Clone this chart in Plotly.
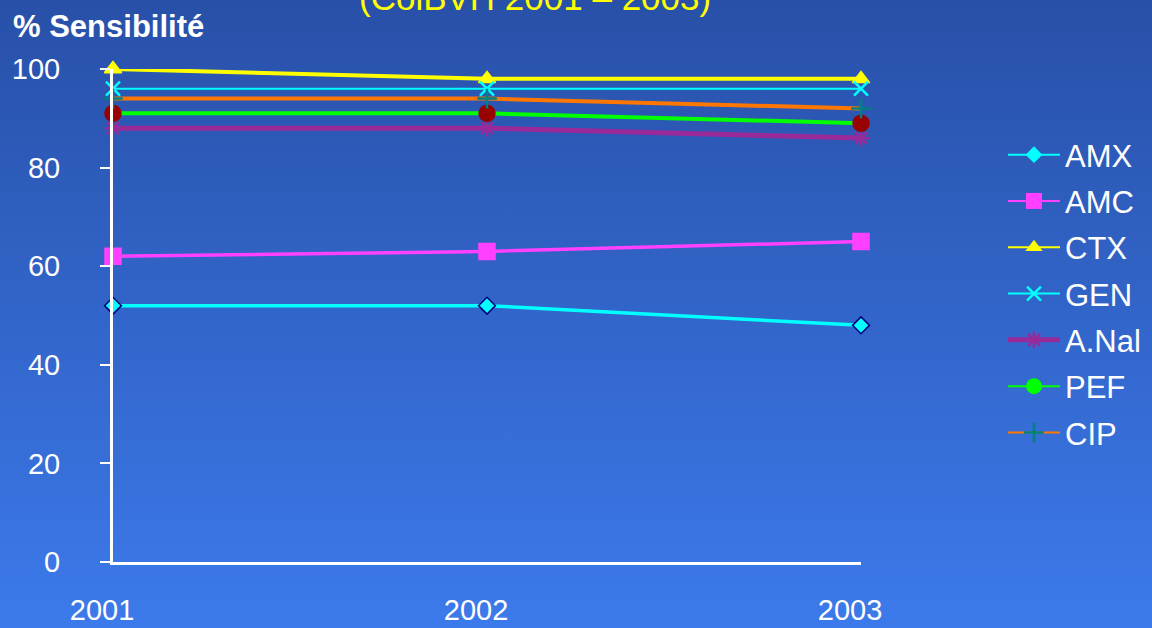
import base64
import plotly.graph_objects as go

# Sensitivity data (%) by year
years = [2001, 2002, 2003]
amx = [52, 52, 48]
amc = [62, 63, 65]
ctx = [100, 98, 98]
gen = [96, 96, 96]
anal = [88, 88, 86]
pef = [91, 91, 89]
cip = [94, 94, 92]

W, H = 1152, 628
ML, MR, MT, MB = 113, 291, 69, 66

series = [
    # name, values, line colour, line width, symbol, marker fill, marker line colour, size, legend marker fill
    ("AMX", amx, "#00FFFF", 3.5, "diamond", "#00FFFF", "#000080", 13, "#00FFFF"),
    ("AMC", amc, "#FF40FF", 3.5, "square", "#FF40FF", "#FF40FF", 16, "#FF40FF"),
    ("CTX", ctx, "#FFFF00", 4, "triangle-up", "#FFFF00", "#FFFF00", 15, "#FFFF00"),
    ("GEN", gen, "#00FFFF", 2, "x-thin-open", "#00FFFF", "#00FFFF", 14, "#00FFFF"),
    ("A.Nal", anal, "#992A99", 5, "asterisk-open", "#992A99", "#992A99", 14, "#992A99"),
    ("PEF", pef, "#00FF00", 4, "circle", "#990000", "#990000", 16, "#00FF00"),
    ("CIP", cip, "#FF7700", 4, "cross-thin-open", "#008080", "#008080", 14, "#008080"),
]

fig = go.Figure()
for name, vals, lc, lw, sym, mfill, mline, size, legfill in series:
    open_sym = sym.endswith("-open")
    fig.add_trace(go.Scatter(
        x=years, y=vals, mode="lines+markers", name=name, showlegend=False,
        line=dict(color=lc, width=lw),
        marker=dict(symbol=sym, size=size, color=mfill,
                    line=dict(color=mline, width=2.5 if open_sym else 1.5)),
        cliponaxis=False,
    ))

# Legend entries (legend markers use the line colour family)
for i, (name, vals, lc, lw, sym, mfill, mline, size, legfill) in enumerate(series):
    open_sym = sym.endswith("-open")
    fig.add_trace(go.Scatter(
        x=[None], y=[None], mode="lines+markers", name=name,
        legendgroup=f"g{i}",
        line=dict(color=lc, width=lw if name == "A.Nal" else 2),
        marker=dict(symbol=sym, size=size, color=legfill,
                    line=dict(color=legfill, width=2.5 if open_sym else 0)),
    ))

# Vertical blue gradient background
svg = (
    f'<svg xmlns="http://www.w3.org/2000/svg" width="{W}" height="{H}">'
    '<defs><linearGradient id="g" x1="0" y1="0" x2="0" y2="1">'
    '<stop offset="0" stop-color="#2850A8"/>'
    '<stop offset="1" stop-color="#3C7AEB"/>'
    '</linearGradient></defs>'
    f'<rect width="{W}" height="{H}" fill="url(#g)"/></svg>'
)
bg_src = "data:image/svg+xml;base64," + base64.b64encode(svg.encode()).decode()

pw = W - ML - MR
ph = H - MT - MB

fig.update_layout(
    width=W, height=H,
    margin=dict(l=ML, r=MR, t=MT, b=MB, pad=0, autoexpand=False),
    paper_bgcolor="rgba(0,0,0,0)",
    plot_bgcolor="rgba(0,0,0,0)",
    font=dict(family="Liberation Sans, Arial, sans-serif", color="white", size=29),
    images=[dict(source=bg_src, xref="paper", yref="paper",
                 x=-ML / pw, y=1 + MT / ph, sizex=W / pw, sizey=H / ph,
                 xanchor="left", yanchor="top", sizing="stretch", layer="below")],
    xaxis=dict(
        range=[2001, 2003], tickvals=years, ticktext=[str(y) for y in years],
        showline=True, linecolor="white", linewidth=3, showgrid=False,
        zeroline=False, ticks="", ticklabelstandoff=20, ticklabelshift=-11,
        tickfont=dict(size=29, color="white"), automargin=False,
    ),
    yaxis=dict(
        range=[0, 100], tickvals=[0, 20, 40, 60, 80, 100],
        showline=True, linecolor="white", linewidth=3, showgrid=False,
        zeroline=False, ticks="outside", ticklen=10, tickwidth=2, tickcolor="white",
        ticklabelstandoff=34, tickfont=dict(size=29, color="white"), automargin=False,
    ),
    legend=dict(
        x=(1003 - ML) / pw, xanchor="left",
        y=(H - MB - 128) / ph, yanchor="top",
        bgcolor="rgba(0,0,0,0)", font=dict(size=31, color="white"),
        tracegroupgap=3, itemwidth=52,
    ),
    annotations=[
        dict(text="<b>% Sensibilité</b>", xref="paper", yref="paper",
             x=(11 - ML) / pw, y=1 + (MT - 27) / ph, xanchor="left", yanchor="middle",
             showarrow=False, font=dict(size=31, color="white")),
        dict(text="(ColBVH 2001 – 2003)", xref="paper", yref="paper",
             x=(535 - ML) / pw, y=1 + (MT + 2) / ph, xanchor="center", yanchor="middle",
             showarrow=False, font=dict(size=35, color="#FFFF00")),
    ],
)

fig.write_html("out.html")
